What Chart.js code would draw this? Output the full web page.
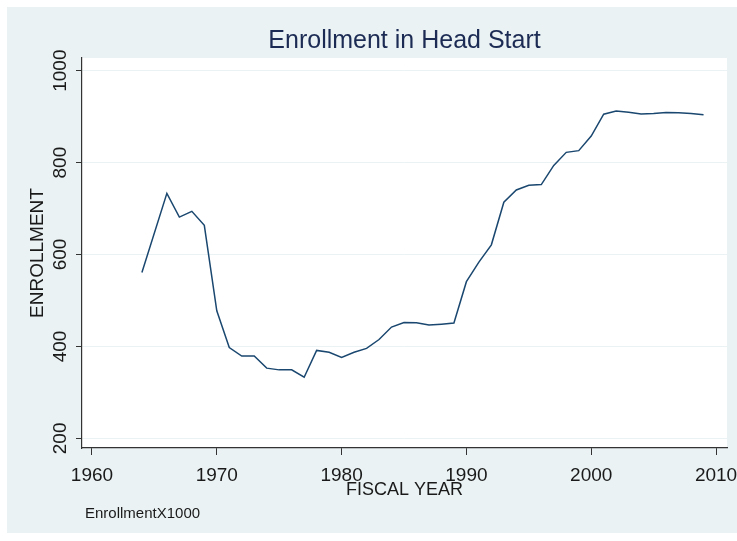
<!DOCTYPE html>
<html>
<head>
<meta charset="utf-8">
<title>Enrollment in Head Start</title>
<script src="https://cdn.jsdelivr.net/npm/chart.js@4"></script>
<style>
  html, body { margin: 0; padding: 0; background: #fff; }
  #wrap { width: 737px; height: 541px; }
</style>
</head>
<body>
<div id="wrap"><canvas id="enrollChart" width="737" height="541"></canvas></div>
<script>
// ===== Data (enrollment in thousands) =====
const years = [1964, 1966, 1967, 1968, 1969, 1970, 1971, 1972, 1973, 1974, 1975, 1976, 1977, 1978, 1979,
  1980, 1981, 1982, 1983, 1984, 1985, 1986, 1987, 1988, 1989, 1990, 1991, 1992, 1993, 1994, 1995, 1996,
  1997, 1998, 1999, 2000, 2001, 2002, 2003, 2004, 2005, 2006, 2007, 2008, 2009];
const enrollment = [561.0, 733.0, 681.4, 693.9, 663.6, 477.4, 397.5, 379.0, 379.0, 352.8, 349.0, 349.0, 333.0, 391.4, 387.3,
  376.3, 387.3, 395.8, 415.0, 442.1, 452.1, 451.7, 446.5, 448.5, 451.0, 540.9, 583.5, 621.1, 713.9, 740.5, 750.7, 752.1,
  793.8, 822.3, 826.0, 857.7, 905.2, 912.3, 909.6, 905.9, 907.0, 909.2, 908.4, 907.0, 904.2];
const xTicks = [1960, 1970, 1980, 1990, 2000, 2010];
const yTicks = [200, 400, 600, 800, 1000];

const FONT = '"Liberation Sans", Arial, sans-serif';

// ===== Background + text drawn around the plot =====
const stataFrame = {
  id: 'stataFrame',
  beforeDraw(chart) {
    const { ctx, chartArea: a } = chart;
    ctx.save();
    ctx.fillStyle = '#fff';
    ctx.fillRect(0, 0, chart.width, chart.height);
    ctx.fillStyle = '#eaf2f3';
    ctx.fillRect(7, 7, chart.width - 7, 526);
    ctx.fillStyle = '#fff';
    ctx.fillRect(a.left, a.top, a.right - a.left, a.bottom - a.top);
    ctx.restore();
  },
  afterDraw(chart) {
    const { ctx, chartArea: a } = chart;
    const y = chart.scales.y;
    ctx.save();
    // title
    ctx.fillStyle = '#1c2b54';
    ctx.font = '25px ' + FONT;
    ctx.textAlign = 'center';
    ctx.textBaseline = 'alphabetic';
    ctx.fillText('Enrollment in Head Start', (a.left + a.right) / 2, 48);

    // vertical y tick labels
    ctx.fillStyle = '#1a1a1a';
    ctx.font = '19px ' + FONT;
    yTicks.forEach(v => {
      ctx.save();
      ctx.translate(66, y.getPixelForValue(v));
      ctx.rotate(-Math.PI / 2);
      ctx.textAlign = 'center';
      ctx.fillText(String(v), 0, 0);
      ctx.restore();
    });

    // note
    ctx.font = '15px ' + FONT;
    ctx.textAlign = 'left';
    ctx.fillText('EnrollmentX1000', 85, 518);
    ctx.restore();
  }
};

// ===== Line Chart =====
const ctx = document.getElementById('enrollChart').getContext('2d');
const enrollChart = new Chart(ctx, {
  type: 'line',
  data: {
    datasets: [{
      label: 'Enrollment',
      data: years.map((yr, i) => ({ x: yr, y: enrollment[i] })),
      borderColor: '#1a476f',
      borderWidth: 1.5,
      pointRadius: 0,
      tension: 0,
      fill: false
    }]
  },
  options: {
    responsive: false,
    animation: false,
    layout: { padding: { left: 0, top: 58, right: 10, bottom: 0 } },
    plugins: {
      legend: { display: false },
      tooltip: { enabled: false }
    },
    scales: {
      x: {
        type: 'linear',
        min: 1959.2,
        max: 2010.88,
        afterBuildTicks: s => { s.ticks = xTicks.map(v => ({ value: v })); },
        afterFit: s => {
          s.height = 93;
          // let the 2010 label hang past the plot edge like the original
          s.paddingLeft = 0;
          s.paddingRight = 0;
        },
        grid: { drawOnChartArea: false, tickLength: 7, tickColor: '#333' },
        border: { color: '#333', width: 1.2 },
        ticks: {
          font: { family: FONT, size: 19 },
          color: '#1a1a1a',
          padding: 9,
          maxRotation: 0,
          callback: v => String(v)
        },
        title: {
          display: true,
          text: 'FISCAL YEAR',
          font: { family: FONT, size: 18 },
          color: '#1a1a1a',
          padding: { top: 0, bottom: 40 }
        }
      },
      y: {
        min: 179,
        max: 1027.6,
        afterBuildTicks: s => { s.ticks = yTicks.map(v => ({ value: v })); },
        afterFit: s => { s.width = 82; },
        grid: { color: '#eaf2f3', lineWidth: 1, tickLength: 6, tickColor: '#333' },
        border: { color: '#333', width: 1.2 },
        ticks: { display: false },
        title: {
          display: true,
          text: 'ENROLLMENT',
          font: { family: FONT, size: 19 },
          color: '#1a1a1a',
          padding: { top: 26, bottom: 0 }
        }
      }
    }
  },
  plugins: [stataFrame]
});
</script>
</body>
</html>
